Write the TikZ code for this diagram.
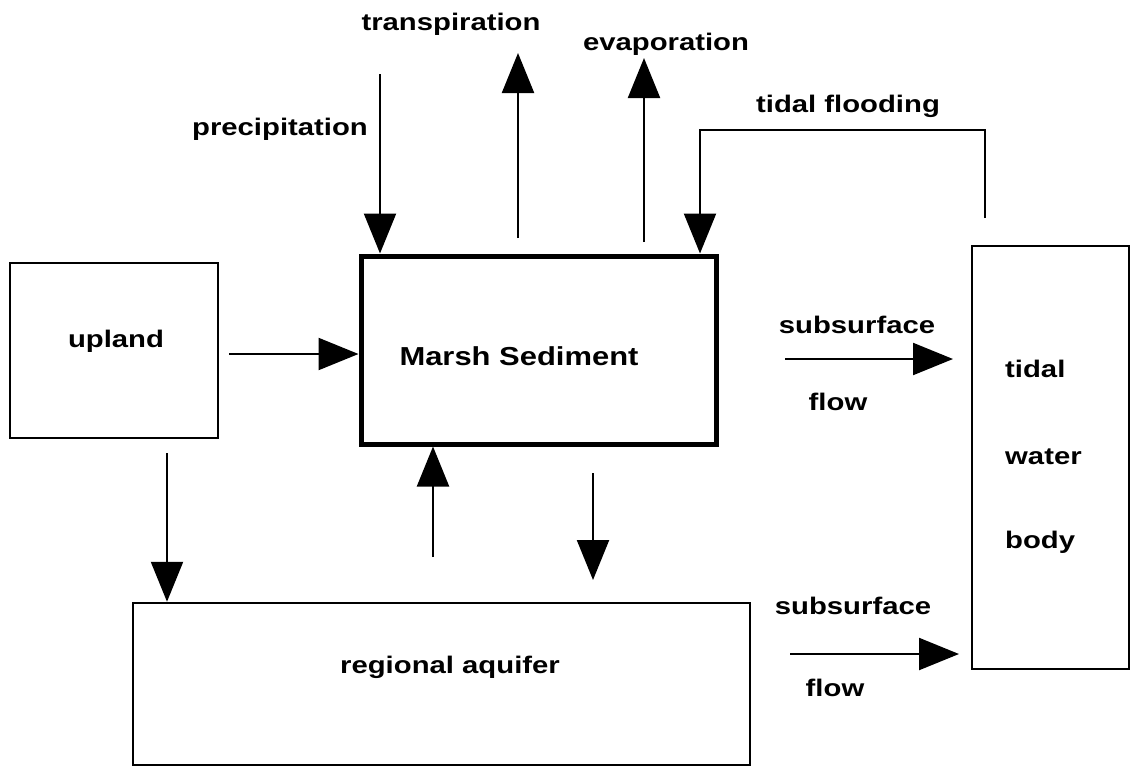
\documentclass[tikz,border=0pt]{standalone}
\usepackage{fontspec}
\newfontfamily\labfont{Liberation Sans}[FakeStretch=1.22]
\newfontfamily\bigfont{Liberation Sans}[FakeStretch=1.19]
\usetikzlibrary{arrows.meta}
\tikzset{
  box/.style={draw, line width=2.5pt, inner sep=0pt},
  thickbox/.style={draw, line width=5pt, inner sep=0pt},
  flow/.style={line width=2.2pt, -{Triangle[length=40pt,width=32pt]}},
  lab/.style={font=\labfont\bfseries\fontsize{24}{28}\selectfont, inner sep=0pt, anchor=base},
  biglab/.style={font=\bigfont\bfseries\fontsize{26}{30}\selectfont, inner sep=0pt, anchor=base},
  labl/.style={lab, anchor=base west},
}
\begin{document}
\begin{tikzpicture}[x=1pt,y=-1pt]
\useasboundingbox (0,0) rectangle (1131,766);
% boxes
\node[box, minimum width=208pt, minimum height=175pt] (upland) at (114,350.5) {};
\node[thickbox, minimum width=355pt, minimum height=188pt] (marsh) at (538.5,350) {};
\node[box, minimum width=157pt, minimum height=423pt] (tidal) at (1050.5,457.5) {};
\node[box, minimum width=617pt, minimum height=162pt] (aquifer) at (441.5,684) {};
% labels
\node[lab] (tUp) at (116,347) {upland};
\node[biglab] (tMarsh) at (519,365) {Marsh Sediment};
\node[lab] (tAq) at (450,673) {regional aquifer};
\node[labl] (tT1) at (1005,377) {tidal};
\node[labl] (tT2) at (1005,464) {water};
\node[labl] (tT3) at (1005,548) {body};
\node[lab] (tTrans) at (451,30) {transpiration};
\node[lab] (tEvap) at (666,50) {evaporation};
\node[lab] (tFlood) at (848,112) {tidal flooding};
\node[lab] (tPrec) at (280,135) {precipitation};
\node[lab] (tSub1) at (857,333) {subsurface};
\node[lab] (tFl1) at (838,410) {flow};
\node[lab] (tSub2) at (853,614) {subsurface};
\node[lab] (tFl2) at (835,696) {flow};
% connector end points
\coordinate (pA) at (380,74);
\coordinate (trA) at (518,238);
\coordinate (trB) at (518,53);
\coordinate (evA) at (644,242);
\coordinate (evB) at (644,58);
\coordinate (fA) at (985,218);
\coordinate (fB) at (985,130);
\coordinate (fC) at (700,130);
\coordinate (uA) at (229,354);
\coordinate (s1A) at (785,359);
\coordinate (s1B) at (953,359);
\coordinate (udA) at (167,453);
\coordinate (mA) at (433,557);
\coordinate (mdA) at (593,473);
\coordinate (mdB) at (593,580);
\coordinate (s2A) at (790,654);
\coordinate (s2B) at (959,654);
% arrows
\draw[flow] (pA) -- (pA |- marsh.north);
\draw[flow] (trA) -- (trB);
\draw[flow] (evA) -- (evB);
\draw[flow] (fA) -- (fB) -- (fC) -- (fC |- marsh.north);
\draw[flow] (uA) -- (uA -| marsh.west);
\draw[flow] (s1A) -- (s1B);
\draw[flow] (udA) -- (udA |- aquifer.north);
\draw[flow] (mA) -- (mA |- marsh.south);
\draw[flow] (mdA) -- (mdB);
\draw[flow] (s2A) -- (s2B);
\end{tikzpicture}
\end{document}
